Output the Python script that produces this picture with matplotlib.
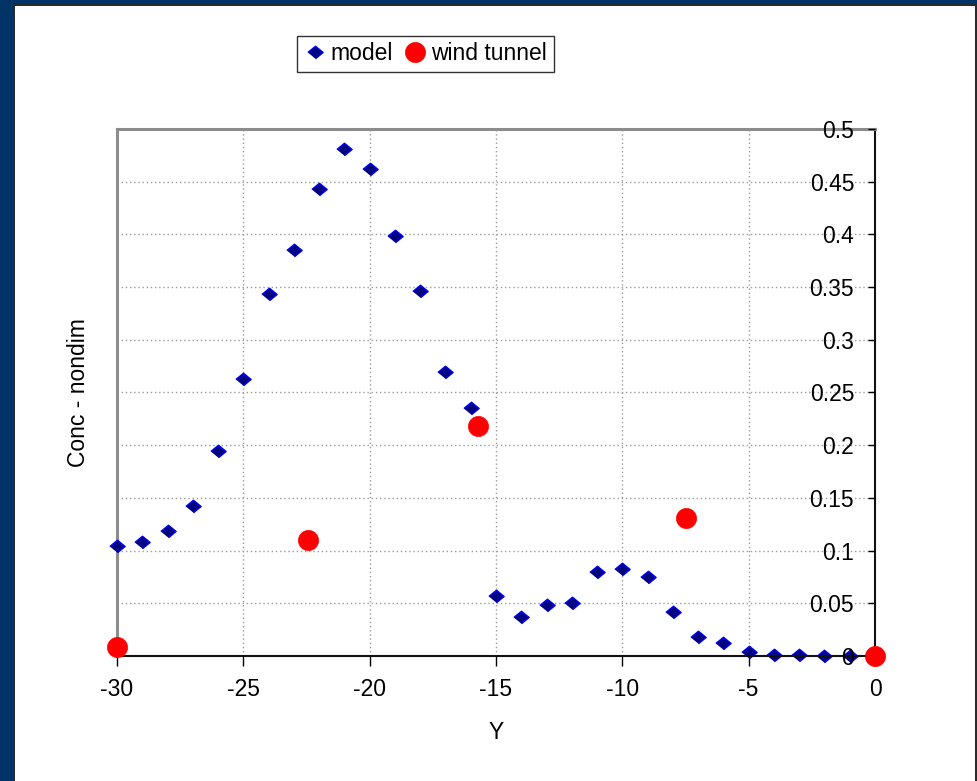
import matplotlib
matplotlib.use("Agg")
import matplotlib.pyplot as plt
from matplotlib.patches import Rectangle
from matplotlib.ticker import MultipleLocator, FuncFormatter

plt.rcParams['font.family'] = ['Liberation Sans', 'DejaVu Sans']
plt.rcParams['font.size'] = 16.5

# Model concentration profile across the plume (Y positions -30 .. 0)
model_y = [-30, -29, -28, -27, -26, -25, -24, -23, -22, -21, -20, -19, -18,
           -17, -16, -15, -14, -13, -12, -11, -10, -9, -8, -7, -6, -5, -4,
           -3, -2, -1]
model_conc = [0.104, 0.108, 0.119, 0.142, 0.1945, 0.263, 0.3435, 0.385,
              0.443, 0.481, 0.462, 0.3985, 0.346, 0.269, 0.235, 0.057,
              0.037, 0.048, 0.0505, 0.0795, 0.083, 0.075, 0.042, 0.018,
              0.012, 0.0035, 0.0005, 0.001, 0.0, 0.0]

# Wind tunnel measurements
tunnel_y = [-30, -22.45, -15.7, -7.5, 0]
tunnel_conc = [0.009, 0.110, 0.218, 0.131, 0.0]

fig = plt.figure(figsize=(9.77, 7.81), dpi=100)

# Frame around the chart
navy = '#003366'
edge = '#2a2a2a'
W, H = 977.0, 781.0
fig.patches.append(Rectangle((0, 0), 13 / W, 1, transform=fig.transFigure,
                             facecolor=navy, edgecolor='none', zorder=0))
fig.patches.append(Rectangle((0, 1 - 4 / H), 1, 4 / H, transform=fig.transFigure,
                             facecolor=navy, edgecolor='none', zorder=0))
fig.patches.append(Rectangle((13 / W, 0), 2 / W, 1 - 4 / H, transform=fig.transFigure,
                             facecolor=edge, edgecolor='none', zorder=0))
fig.patches.append(Rectangle((13 / W, 1 - 6 / H), 1, 2 / H, transform=fig.transFigure,
                             facecolor=edge, edgecolor='none', zorder=0))
fig.patches.append(Rectangle((1 - 2 / W, 0), 2 / W, 1 - 4 / H, transform=fig.transFigure,
                             facecolor=edge, edgecolor='none', zorder=0))

ax = fig.add_axes([117 / W, 1 - 656 / H, (875 - 117) / W, (656 - 129) / H])
ax.set_xlim(-30, 0)
ax.set_ylim(0, 0.5)
ax.xaxis.set_major_locator(MultipleLocator(5))
ax.yaxis.set_major_locator(MultipleLocator(0.05))
ax.yaxis.set_major_formatter(FuncFormatter(lambda v, p: f"{v:.2f}".rstrip('0').rstrip('.')))
ax.xaxis.set_major_formatter(FuncFormatter(lambda v, p: f"{int(round(v))}"))

grid_kw = dict(color='#9a9a9a', linewidth=1.0, linestyle=(0, (1, 2)))
ax.grid(axis='x', **grid_kw)
for t in ax.get_yticks():
    if 0 < t < 0.5:
        ax.axhline(t, zorder=1, **grid_kw)
ax.xaxis.set_zorder(1.5)
ax.yaxis.set_zorder(2.6)

# Value axis sits at Y = 0 on the right
ax.spines['left'].set_position(('data', 0))
ax.spines['left'].set_color('#111111')
ax.spines['left'].set_linewidth(1.5)
ax.spines['right'].set_visible(False)
ax.spines['top'].set_color('#8c8c8c')
ax.spines['top'].set_linewidth(2.2)
ax.spines['bottom'].set_color('#111111')
ax.spines['bottom'].set_linewidth(1.5)
ax.axvline(-30, color='#8c8c8c', linewidth=2.2, zorder=1.6, clip_on=False)

ax.tick_params(axis='x', direction='out', length=7, width=1, pad=9, colors='black')
ax.tick_params(axis='y', direction='out', length=5, width=1, pad=10, colors='black')

diamond = [(-1, 0), (0, 0.82), (1, 0), (0, -0.82)]
ax.plot(model_y, model_conc, linestyle='none', marker=diamond, markersize=11,
        markerfacecolor='#000080', markeredgecolor='#0000ff', markeredgewidth=1,
        label='model', zorder=2, clip_on=False)
ax.plot(tunnel_y, tunnel_conc, linestyle='none', marker='o', markersize=14.5,
        markerfacecolor='#ff0000', markeredgecolor='#ff0000', markeredgewidth=0.5,
        label='wind tunnel', zorder=4, clip_on=False)

ax.set_xlabel('Y', labelpad=14)
ax.set_ylabel('Conc - nondim')
ax.yaxis.set_label_coords(-0.036, 0.5)

leg = fig.legend(loc='center', bbox_to_anchor=(425.5 / W, 1 - 54 / H), ncol=2,
                 frameon=True, fancybox=False, shadow=False, handlelength=0.9,
                 handletextpad=0.25, columnspacing=0.5, borderpad=0.3,
                 borderaxespad=0)
leg.get_frame().set_edgecolor('black')
leg.get_frame().set_linewidth(1.0)

fig.savefig('out.png', dpi=100, facecolor='white')
